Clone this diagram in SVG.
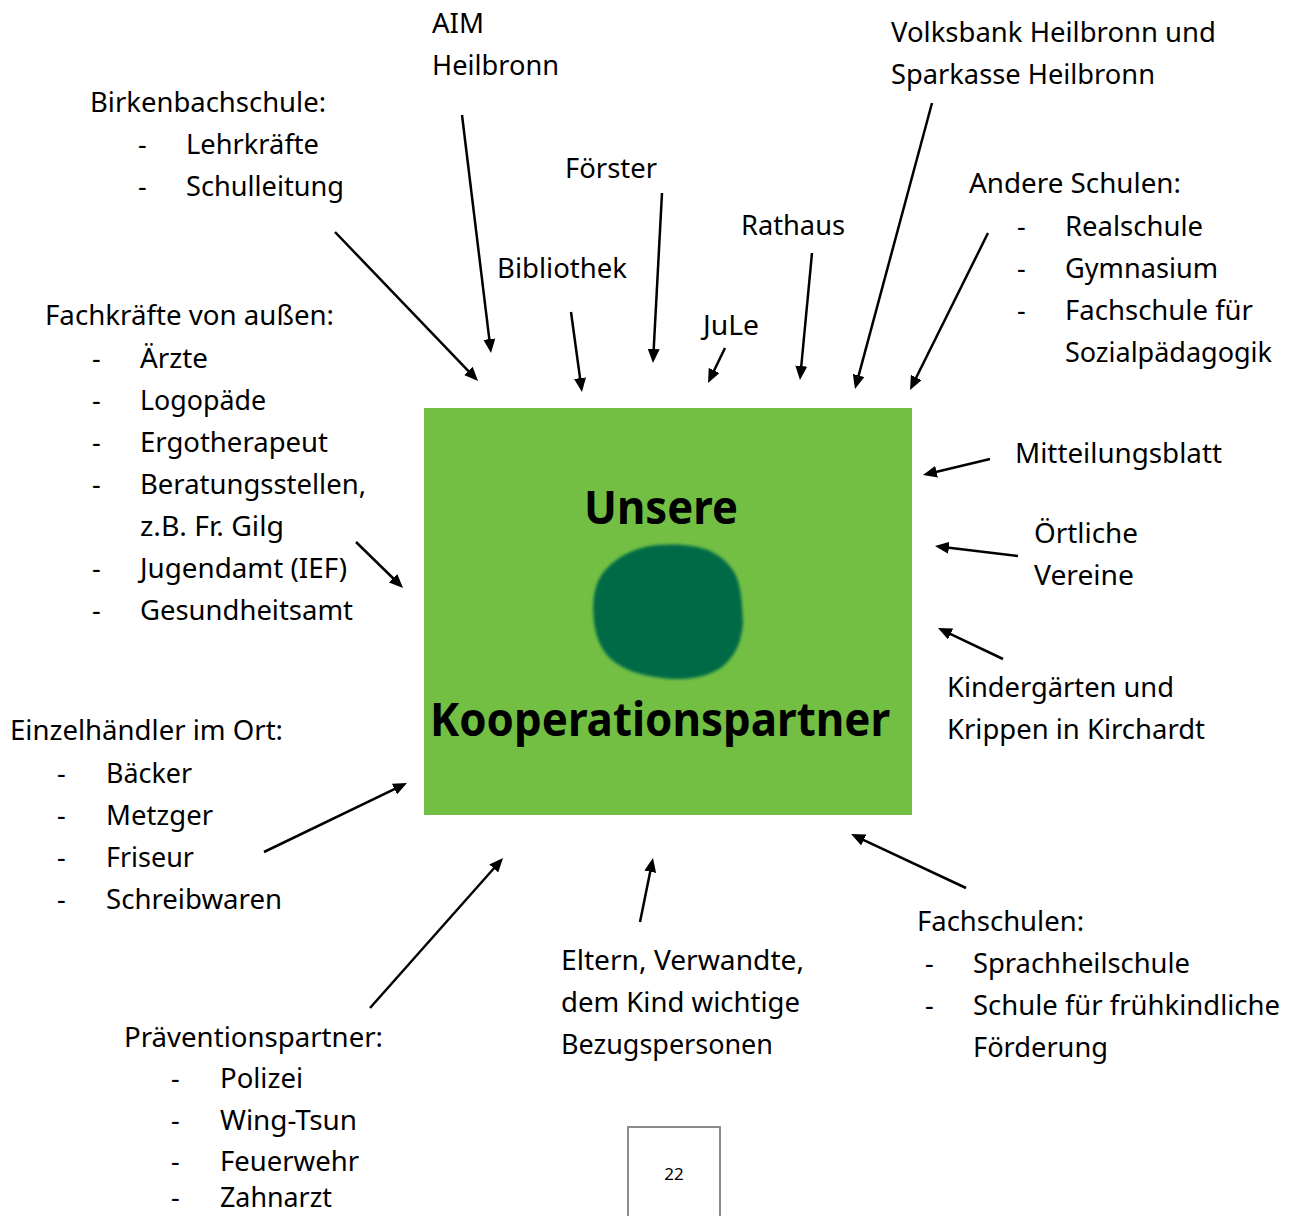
<svg xmlns="http://www.w3.org/2000/svg" width="1290" height="1216" viewBox="0 0 1290 1216">
<style>
  text { font-family: "Noto Sans", "Open Sans", sans-serif; font-size: 27px; fill: #000; }
  .bold { font-weight: bold; font-size: 46px; }
  .pg { font-size: 17px; }
  .conn line { stroke: #000; stroke-width: 2.5; fill: none; marker-end: url(#ah); }
</style>
<defs>
  <marker id="ah" viewBox="0 0 14 12" refX="4" refY="6" markerWidth="14" markerHeight="12" markerUnits="userSpaceOnUse" orient="auto">
    <path d="M0,0 L14,6 L0,12 z" fill="#000"/>
  </marker>
  <filter id="soft" x="-10%" y="-10%" width="120%" height="120%">
    <feGaussianBlur stdDeviation="1.5"/>
  </filter>
</defs>
<rect x="0" y="0" width="1290" height="1216" fill="#fff"/>

<g id="center">
  <rect x="424" y="408" width="488" height="407" fill="#72bf44"/>
  <path d="M645 547 C665 543 690 544 708 550 C722 556 732 566 737 578 C742 592 742 608 743 622 C742 640 736 656 722 667 C704 680 676 681 655 677 C630 673 610 664 601 646 C592 628 591 600 597 584 C604 566 622 553 645 547 Z" fill="#066a47" filter="url(#soft)"/>
  <text class="bold" x="584" y="524" textLength="154" lengthAdjust="spacingAndGlyphs">Unsere</text>
  <text class="bold" x="430" y="736" textLength="460" lengthAdjust="spacingAndGlyphs">Kooperationspartner</text>
</g>

<g id="aim">
  <text x="432" y="33" textLength="52" lengthAdjust="spacingAndGlyphs">AIM</text>
  <text x="432" y="75" textLength="127" lengthAdjust="spacingAndGlyphs">Heilbronn</text>
</g>
<g id="birkenbachschule">
  <text x="90" y="112" textLength="236" lengthAdjust="spacingAndGlyphs">Birkenbachschule:</text>
  <text x="138" y="154">-</text>
  <text x="186" y="154" textLength="133" lengthAdjust="spacingAndGlyphs">Lehrkräfte</text>
  <text x="138" y="196">-</text>
  <text x="186" y="196" textLength="158" lengthAdjust="spacingAndGlyphs">Schulleitung</text>
</g>
<g id="foerster">
  <text x="565" y="178" textLength="92" lengthAdjust="spacingAndGlyphs">Förster</text>
</g>
<g id="bibliothek">
  <text x="497" y="278" textLength="130" lengthAdjust="spacingAndGlyphs">Bibliothek</text>
</g>
<g id="rathaus">
  <text x="741" y="235" textLength="104" lengthAdjust="spacingAndGlyphs">Rathaus</text>
</g>
<g id="jule">
  <text x="703" y="335" textLength="56" lengthAdjust="spacingAndGlyphs">JuLe</text>
</g>
<g id="banken">
  <text x="891" y="42" textLength="325" lengthAdjust="spacingAndGlyphs">Volksbank Heilbronn und</text>
  <text x="891" y="84" textLength="264" lengthAdjust="spacingAndGlyphs">Sparkasse Heilbronn</text>
</g>
<g id="andere-schulen">
  <text x="969" y="193" textLength="212" lengthAdjust="spacingAndGlyphs">Andere Schulen:</text>
  <text x="1017" y="236">-</text>
  <text x="1065" y="236" textLength="138" lengthAdjust="spacingAndGlyphs">Realschule</text>
  <text x="1017" y="278">-</text>
  <text x="1065" y="278" textLength="153" lengthAdjust="spacingAndGlyphs">Gymnasium</text>
  <text x="1017" y="320">-</text>
  <text x="1065" y="320" textLength="188" lengthAdjust="spacingAndGlyphs">Fachschule für</text>
  <text x="1065" y="362" textLength="207" lengthAdjust="spacingAndGlyphs">Sozialpädagogik</text>
</g>
<g id="fachkraefte">
  <text x="45" y="325" textLength="289" lengthAdjust="spacingAndGlyphs">Fachkräfte von außen:</text>
  <text x="92" y="368">-</text>
  <text x="140" y="368" textLength="68" lengthAdjust="spacingAndGlyphs">Ärzte</text>
  <text x="92" y="410">-</text>
  <text x="140" y="410" textLength="126" lengthAdjust="spacingAndGlyphs">Logopäde</text>
  <text x="92" y="452">-</text>
  <text x="140" y="452" textLength="188" lengthAdjust="spacingAndGlyphs">Ergotherapeut</text>
  <text x="92" y="494">-</text>
  <text x="140" y="494" textLength="226" lengthAdjust="spacingAndGlyphs">Beratungsstellen,</text>
  <text x="140" y="536" textLength="144" lengthAdjust="spacingAndGlyphs">z.B. Fr. Gilg</text>
  <text x="92" y="578">-</text>
  <text x="140" y="578" textLength="207" lengthAdjust="spacingAndGlyphs">Jugendamt (IEF)</text>
  <text x="92" y="620">-</text>
  <text x="140" y="620" textLength="213" lengthAdjust="spacingAndGlyphs">Gesundheitsamt</text>
</g>
<g id="mitteilungsblatt">
  <text x="1015" y="463" textLength="207" lengthAdjust="spacingAndGlyphs">Mitteilungsblatt</text>
</g>
<g id="vereine">
  <text x="1034" y="543" textLength="104" lengthAdjust="spacingAndGlyphs">Örtliche</text>
  <text x="1034" y="585" textLength="100" lengthAdjust="spacingAndGlyphs">Vereine</text>
</g>
<g id="kindergaerten">
  <text x="947" y="697" textLength="227" lengthAdjust="spacingAndGlyphs">Kindergärten und</text>
  <text x="947" y="739" textLength="258" lengthAdjust="spacingAndGlyphs">Krippen in Kirchardt</text>
</g>
<g id="einzelhaendler">
  <text x="10" y="740" textLength="273" lengthAdjust="spacingAndGlyphs">Einzelhändler im Ort:</text>
  <text x="57" y="783">-</text>
  <text x="106" y="783" textLength="86" lengthAdjust="spacingAndGlyphs">Bäcker</text>
  <text x="57" y="825">-</text>
  <text x="106" y="825" textLength="107" lengthAdjust="spacingAndGlyphs">Metzger</text>
  <text x="57" y="867">-</text>
  <text x="106" y="867" textLength="88" lengthAdjust="spacingAndGlyphs">Friseur</text>
  <text x="57" y="909">-</text>
  <text x="106" y="909" textLength="176" lengthAdjust="spacingAndGlyphs">Schreibwaren</text>
</g>
<g id="praevention">
  <text x="124" y="1047" textLength="259" lengthAdjust="spacingAndGlyphs">Präventionspartner:</text>
  <text x="171" y="1088">-</text>
  <text x="220" y="1088" textLength="83" lengthAdjust="spacingAndGlyphs">Polizei</text>
  <text x="171" y="1130">-</text>
  <text x="220" y="1130" textLength="137" lengthAdjust="spacingAndGlyphs">Wing-Tsun</text>
  <text x="171" y="1171">-</text>
  <text x="220" y="1171" textLength="139" lengthAdjust="spacingAndGlyphs">Feuerwehr</text>
  <text x="171" y="1207">-</text>
  <text x="220" y="1207" textLength="112" lengthAdjust="spacingAndGlyphs">Zahnarzt</text>
</g>
<g id="eltern">
  <text x="561" y="970" textLength="243" lengthAdjust="spacingAndGlyphs">Eltern, Verwandte,</text>
  <text x="561" y="1012" textLength="239" lengthAdjust="spacingAndGlyphs">dem Kind wichtige</text>
  <text x="561" y="1054" textLength="212" lengthAdjust="spacingAndGlyphs">Bezugspersonen</text>
</g>
<g id="fachschulen">
  <text x="917" y="931" textLength="167" lengthAdjust="spacingAndGlyphs">Fachschulen:</text>
  <text x="925" y="973">-</text>
  <text x="973" y="973" textLength="217" lengthAdjust="spacingAndGlyphs">Sprachheilschule</text>
  <text x="925" y="1015">-</text>
  <text x="973" y="1015" textLength="307" lengthAdjust="spacingAndGlyphs">Schule für frühkindliche</text>
  <text x="973" y="1057" textLength="135" lengthAdjust="spacingAndGlyphs">Förderung</text>
</g>
<g id="page-number">
  <rect x="628" y="1127" width="92" height="100" fill="none" stroke="#8c8c8c" stroke-width="2"/>
  <text class="pg" x="674" y="1180" text-anchor="middle">22</text>
</g>

<g id="connectors" class="conn">
  <line x1="335" y1="232" x2="471.1" y2="373.8"/>
  <line x1="462" y1="115" x2="489.8" y2="343.1"/>
  <line x1="571" y1="312" x2="580.6" y2="382.1"/>
  <line x1="662" y1="193" x2="653.5" y2="353.0"/>
  <line x1="725" y1="348" x2="712.4" y2="374.0"/>
  <line x1="812" y1="253" x2="800.9" y2="370.0"/>
  <line x1="932" y1="103" x2="857.6" y2="379.3"/>
  <line x1="988" y1="233" x2="914.5" y2="381.0"/>
  <line x1="990" y1="459" x2="932.7" y2="472.7"/>
  <line x1="1018" y1="556" x2="944.9" y2="547.2"/>
  <line x1="1003" y1="659" x2="947.0" y2="632.3"/>
  <line x1="356" y1="542" x2="395.9" y2="581.0"/>
  <line x1="264" y1="852" x2="398.0" y2="787.3"/>
  <line x1="370" y1="1008" x2="496.4" y2="865.5"/>
  <line x1="640" y1="922" x2="651.0" y2="867.8"/>
  <line x1="966" y1="888" x2="860.1" y2="838.3"/>
</g>
</svg>
